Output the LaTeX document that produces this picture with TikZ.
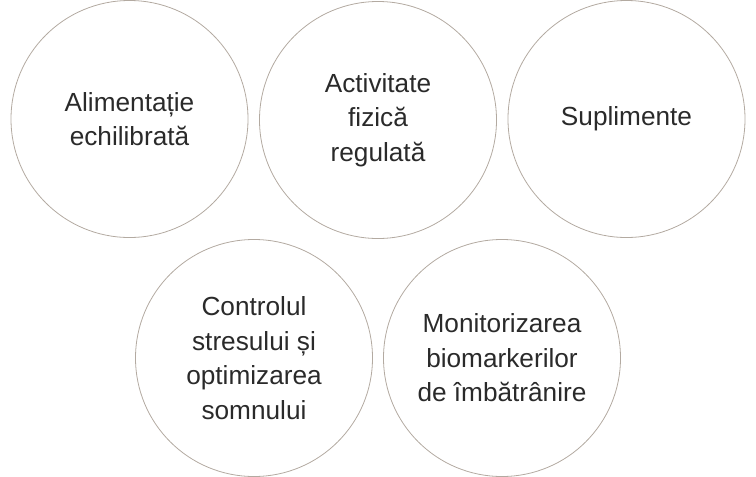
\documentclass[tikz,border=0pt]{standalone}
\usepackage{fontspec}
\setmainfont{Liberation Sans}
\definecolor{rand}{HTML}{B3AAA1}
\definecolor{scris}{HTML}{2A2A2A}
\begin{document}
\begin{tikzpicture}[x=1pt, y=-1pt,
  cerc/.style={circle, draw=rand, line width=0.8pt, minimum size=237pt, inner sep=0pt,
    align=center, text=scris, font=\fontsize{26.2}{34.5}\selectfont}]
  \useasboundingbox (0,0) rectangle (756,477);
  % Randul de sus
  \node[cerc] (alim) at (129.5,119) {Alimentație\\echilibrată};
  \node[cerc] (activ) at (378,120) {Activitate\\fizică\\regulată};
  \node[cerc] (supl) at (626.5,119) {Suplimente};
  % Randul de jos
  \node[cerc] (stres) at (254,358) {Controlul\\stresului și\\optimizarea\\somnului};
  \node[cerc] (monit) at (502,358) {Monitorizarea\\biomarkerilor\\de îmbătrânire};
\end{tikzpicture}
\end{document}
